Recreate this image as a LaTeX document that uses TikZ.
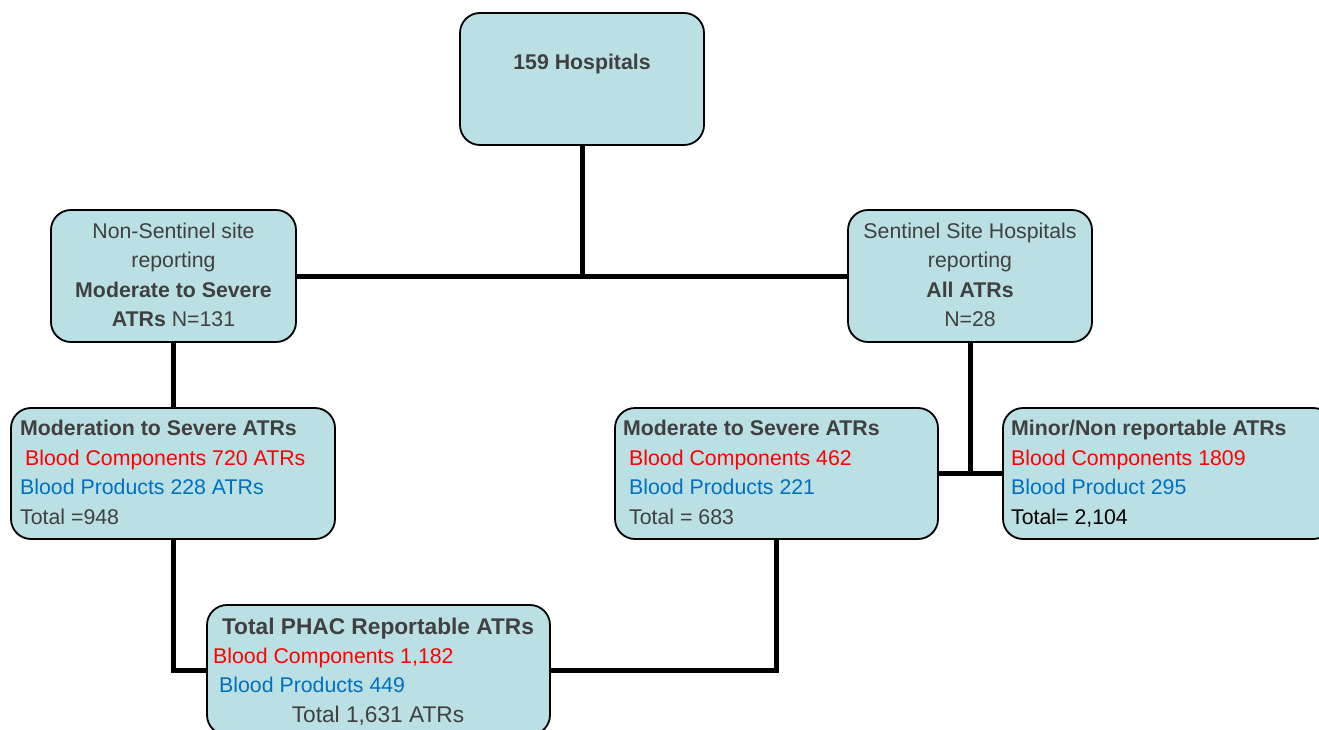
\documentclass[tikz,border=0pt]{standalone}
\usepackage{fontspec}
\setmainfont{Liberation Sans}
\definecolor{boxfill}{HTML}{BAE0E3}
\definecolor{tgray}{HTML}{404040}
\definecolor{tred}{HTML}{FF0000}
\definecolor{tblue}{HTML}{0070C0}
\tikzset{
  box/.style={draw=black, line width=1.8pt, fill=boxfill, rounded corners=20pt, rectangle, inner sep=0pt},
  conn/.style={draw=black, line width=5pt},
  txt/.style={inner sep=0pt, anchor=base west, text=tgray, font=\fontsize{21.3}{25}\selectfont},
  ctxt/.style={txt, anchor=base},
  bigtxt/.style={ctxt, font=\fontsize{22.7}{27}\selectfont},
}
\begin{document}
\begin{tikzpicture}[x=1pt,y=-1pt]
\useasboundingbox (0,0) rectangle (1319,730);
\clip (0,0) rectangle (1319,730);
% boxes
\node[box, minimum width=244pt, minimum height=132pt] (top) at (582,79) {};
\node[box, minimum width=245pt, minimum height=132pt] (ns) at (173.5,276) {};
\node[box, minimum width=244pt, minimum height=132pt] (ss) at (970,276) {};
\node[box, minimum width=324pt, minimum height=131pt] (mod) at (173,473.5) {};
\node[box, minimum width=323pt, minimum height=131pt] (mid) at (776.5,473.5) {};
\node[box, minimum width=330pt, minimum height=131pt] (minor) at (1168,473.5) {};
\node[box, minimum width=343pt, minimum height=130pt] (tot) at (378.5,670) {};
% connectors
\draw[conn] (top.south) -- (top.south |- ns.east);
\draw[conn] (ns.east) -- (ss.west);
\draw[conn] (ns.south) -- (ns.south |- mod.north);
\draw[conn] (ss.south) -- (ss.south |- minor.west);
\draw[conn] (mid.east) -- (minor.west);
\draw[conn] (mod.south) |- (tot.west);
\draw[conn] (mid.south) |- (tot.east);
% texts
\node[ctxt] (t0) at (582,70) {\textbf{159 Hospitals}};
\node[ctxt] (n1) at (173.5,238) {Non-Sentinel site};
\node[ctxt] (n2) at (173.5,267.5) {reporting};
\node[ctxt] (n3) at (173.5,297) {\textbf{Moderate to Severe}};
\node[ctxt] (n4) at (173.5,326.5) {\textbf{ATRs} N=131};
\node[ctxt] (s1) at (970,238) {Sentinel Site Hospitals};
\node[ctxt] (s2) at (970,267.5) {reporting};
\node[ctxt] (s3) at (970,297) {\textbf{All ATRs}};
\node[ctxt] (s4) at (970,326.5) {N=28};
\node[txt] (m1) at (20,435.5) {\textbf{Moderation to Severe ATRs}};
\node[txt, text=tred] (m2) at (25,465) {Blood Components 720 ATRs};
\node[txt, text=tblue] (m3) at (20,494.5) {Blood Products 228 ATRs};
\node[txt] (m4) at (20,524) {Total =948};
\node[txt] (d1) at (623,435.5) {\textbf{Moderate to Severe ATRs}};
\node[txt, text=tred] (d2) at (629,465) {Blood Components 462};
\node[txt, text=tblue] (d3) at (629,494.5) {Blood Products 221};
\node[txt] (d4) at (629,524) {Total = 683};
\node[txt] (r1) at (1011,435.5) {\textbf{Minor/Non reportable ATRs}};
\node[txt, text=tred] (r2) at (1011,465) {Blood Components 1809};
\node[txt, text=tblue] (r3) at (1011,494.5) {Blood Product 295};
\node[txt, text=black] (r4) at (1011,524) {Total= 2,104};
\node[bigtxt] (b1) at (378,634) {\textbf{Total PHAC Reportable ATRs}};
\node[txt, text=tred] (b2) at (213,663) {Blood Components 1,182};
\node[txt, text=tblue] (b3) at (219,692) {Blood Products 449};
\node[bigtxt] (b4) at (378,722.5) {Total 1,631 ATRs};
\end{tikzpicture}
\end{document}
